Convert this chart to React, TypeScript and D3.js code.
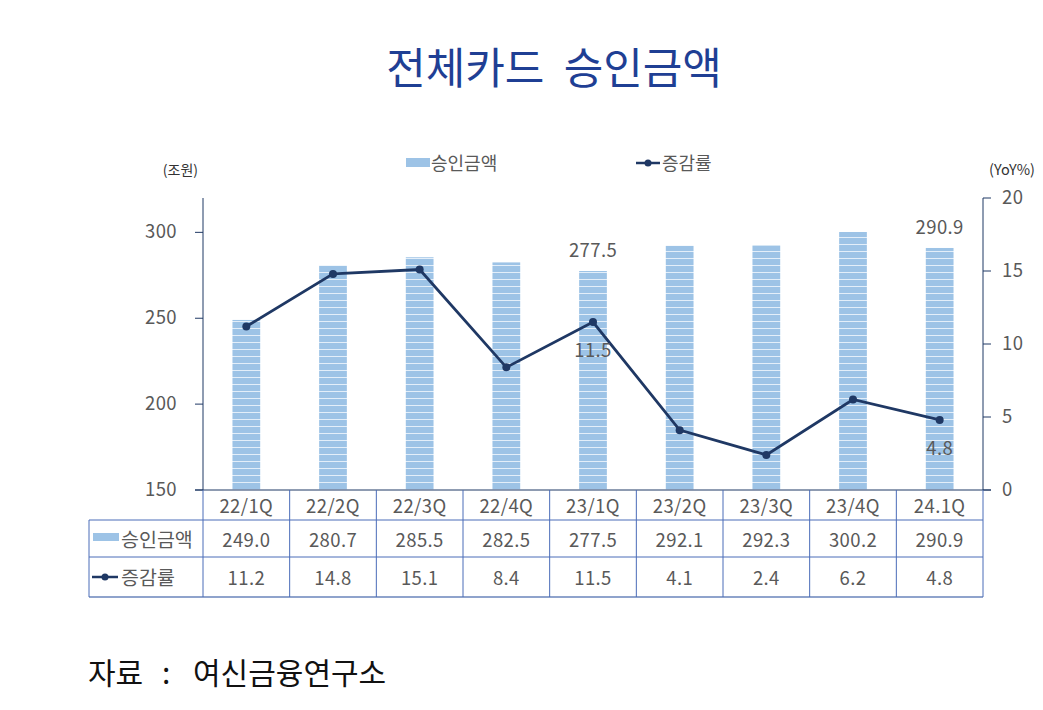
import React from 'react';
import * as d3 from 'd3';

// 분기
const quarters = ['22/1Q', '22/2Q', '22/3Q', '22/4Q', '23/1Q', '23/2Q', '23/3Q', '23/4Q', '24.1Q'];
// 승인금액 (조원)
const amounts = [249.0, 280.7, 285.5, 282.5, 277.5, 292.1, 292.3, 300.2, 290.9];
// 증감률 (YoY %)
const growth = [11.2, 14.8, 15.1, 8.4, 11.5, 4.1, 2.4, 6.2, 4.8];
const leftTicks = [150, 200, 250, 300];
const rightTicks = [0, 5, 10, 15, 20];
// 라벨이 붙은 항목
const barLabelIdx = [4, 8];
const lineLabelIdx = [4, 8];

const FONT = '"Noto Sans CJK KR", "Noto Sans", sans-serif';
const BAR = '#9dc3e6';
const LINE = '#1f3864';
const GRID = '#4a6cb8';
const TXT = '#595959';

export default function App() {
  const left = 203, right = 983, top = 198, bottom = 490;
  const x = d3.scaleBand().domain(quarters).range([left, right]).paddingInner(0).paddingOuter(0);
  const yL = d3.scaleLinear().domain([150, 320]).range([bottom, top]);
  const yR = d3.scaleLinear().domain([0, 20]).range([bottom, top]);
  const bw = x.bandwidth() * 0.32;
  const cx = (q: string) => (x(q) as number) + x.bandwidth() / 2;

  const line = d3.line<number>()
    .x((_, i) => cx(quarters[i]))
    .y(d => yR(d));

  const rowH = [bottom, 520, 557, 597];
  const tableLeft = 89;
  const num = { fontSize: 18.5, fill: TXT, letterSpacing: 0.4 };

  return (
    <div style={{ position: 'absolute', left: 0, top: 0 }}>
      <svg width={1043} height={710} style={{ display: 'block', fontFamily: FONT }}>
        <defs>
          <pattern id="stripe" width="8" height="7" patternUnits="userSpaceOnUse">
            <rect width="8" height="7" fill={BAR} />
            <rect y="6" width="8" height="1" fill="#e3eef9" />
          </pattern>
        </defs>
        <rect width={1043} height={710} fill="#fff" />

        {/* 제목 */}
        <text x={554} y={84} textAnchor="middle" fontSize={43} fill="#1f3f94" style={{ whiteSpace: 'pre' }}>
          {'전체카드  승인금액'}
        </text>

        {/* 범례 */}
        <rect x={406} y={158} width={24} height={9} fill={BAR} />
        <text x={431} y={170} fontSize={18} fill={TXT}>승인금액</text>
        <line x1={636} x2={660} y1={163} y2={163} stroke={LINE} strokeWidth={2.5} />
        <circle cx={648} cy={163} r={3.5} fill={LINE} />
        <text x={662} y={170} fontSize={18} fill={TXT}>증감률</text>

        <text x={198} y={175} textAnchor="end" fontSize={14} fill="#333">(조원)</text>
        <text x={1035} y={175} textAnchor="end" fontSize={14.5} fill="#333">(YoY%)</text>

        {/* 막대 */}
        {amounts.map((v, i) => (
          <rect key={quarters[i]} x={cx(quarters[i]) - bw / 2} y={yL(v)} width={bw}
            height={bottom - yL(v)} fill="url(#stripe)" />
        ))}
        {barLabelIdx.map(i => (
          <text key={'bl' + i} x={cx(quarters[i])} y={yL(amounts[i]) - 14} textAnchor="middle"
            {...num}>{amounts[i].toFixed(1)}</text>
        ))}

        {/* 축 */}
        <line x1={left} x2={left} y1={top} y2={bottom} stroke={LINE} strokeWidth={1} />
        <line x1={right} x2={right} y1={top} y2={bottom} stroke={LINE} strokeWidth={1} />
        <line x1={left - 8} x2={right + 8} y1={bottom} y2={bottom} stroke={LINE} strokeWidth={1} />
        {leftTicks.map(t => (
          <g key={'l' + t}>
            <line x1={left - 8} x2={left} y1={yL(t)} y2={yL(t)} stroke={LINE} />
            <text x={177} y={yL(t) + 6} textAnchor="end" {...num}>{t}</text>
          </g>
        ))}
        {rightTicks.map(t => (
          <g key={'r' + t}>
            <line x1={right} x2={right + 8} y1={yR(t)} y2={yR(t)} stroke={LINE} />
            <text x={1002} y={yR(t) + 6} {...num}>{t}</text>
          </g>
        ))}

        {/* 증감률 선 */}
        <path d={line(growth) || ''} fill="none" stroke={LINE} strokeWidth={2.8} />
        {growth.map((v, i) => (
          <circle key={'p' + i} cx={cx(quarters[i])} cy={yR(v)} r={4} fill={LINE} />
        ))}
        {lineLabelIdx.map(i => (
          <text key={'ll' + i} x={cx(quarters[i])} y={yR(growth[i]) + 35} textAnchor="middle"
            {...num}>{growth[i].toFixed(1)}</text>
        ))}

        {/* 데이터 표 */}
        <line x1={tableLeft} x2={right} y1={rowH[1]} y2={rowH[1]} stroke={GRID} />
        <line x1={tableLeft} x2={right} y1={rowH[2]} y2={rowH[2]} stroke={GRID} />
        <line x1={tableLeft} x2={right} y1={rowH[3]} y2={rowH[3]} stroke="#8fa3cc" strokeWidth={2} />
        <line x1={tableLeft} x2={tableLeft} y1={rowH[1]} y2={rowH[3]} stroke={GRID} />
        {quarters.map(q => (
          <line key={'v' + q} x1={x(q)} x2={x(q)} y1={bottom} y2={rowH[3]} stroke={GRID} />
        ))}
        <line x1={right} x2={right} y1={bottom} y2={rowH[3]} stroke={GRID} />
        {quarters.map((q, i) => (
          <g key={'t' + q}>
            <text x={cx(q)} y={513} textAnchor="middle" {...num}>{q}</text>
            <text x={cx(q)} y={547} textAnchor="middle" {...num}>{amounts[i].toFixed(1)}</text>
            <text x={cx(q)} y={585} textAnchor="middle" {...num}>{growth[i].toFixed(1)}</text>
          </g>
        ))}
        <rect x={93} y={533} width={26} height={8} fill={BAR} />
        <text x={121} y={547} fontSize={19.5} fill={TXT}>승인금액</text>
        <line x1={92} x2={118} y1={577} y2={577} stroke={LINE} strokeWidth={2.5} />
        <circle cx={105} cy={577} r={3.5} fill={LINE} />
        <text x={121} y={585} fontSize={19.5} fill={TXT}>증감률</text>

        {/* 출처 */}
        <text y={684} fontSize={30} fill="#111">
          <tspan x={88}>자료</tspan>
          <tspan x={162}>:</tspan>
          <tspan x={193}>여신금융연구소</tspan>
        </text>
      </svg>
    </div>
  );
}
